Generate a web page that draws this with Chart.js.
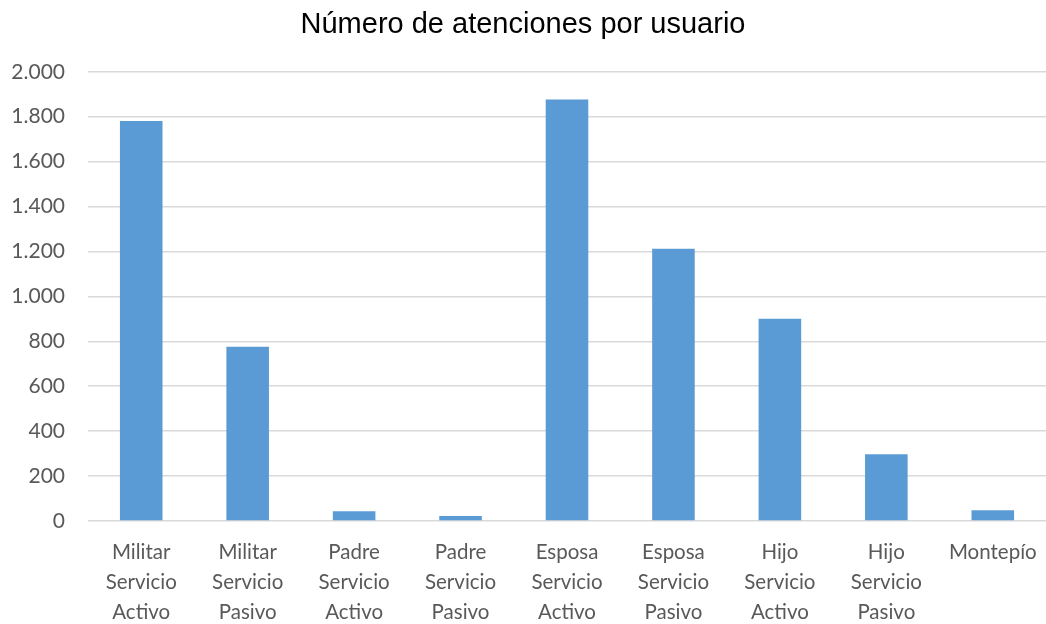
<!DOCTYPE html>
<html>
<head>
<meta charset="utf-8">
<script src="https://cdn.jsdelivr.net/npm/chart.js@4"></script>
<style>
  html, body { margin: 0; padding: 0; background: #fff; }
  #wrap { width: 1046px; height: 624px; }
</style>
</head>
<body>
<div id="wrap"><canvas id="chart"></canvas></div>
<script>
// categorias y valores
const categorias = [
    ['Militar', 'Servicio', 'Activo'],
    ['Militar', 'Servicio', 'Pasivo'],
    ['Padre', 'Servicio', 'Activo'],
    ['Padre', 'Servicio', 'Pasivo'],
    ['Esposa', 'Servicio', 'Activo'],
    ['Esposa', 'Servicio', 'Pasivo'],
    ['Hijo', 'Servicio', 'Activo'],
    ['Hijo', 'Servicio', 'Pasivo'],
    'Montepío'
];
const atenciones = [1781, 776, 43, 22, 1877, 1212, 901, 297, 48];
const ejeMin = 0;
const ejeMax = 2000;
const ejePaso = 200;

const gris = '#595959';

function miles(v) {
    return String(v).replace(/\B(?=(\d{3})+(?!\d))/g, '.');
}

new Chart(document.getElementById('chart'), {
    type: 'bar',
    data: {
        labels: categorias,
        datasets: [{
            data: atenciones,
            backgroundColor: '#5B9BD5',
            borderWidth: 0,
            barPercentage: 0.4,
            categoryPercentage: 1
        }]
    },
    options: {
        responsive: true,
        maintainAspectRatio: false,
        animation: false,
        layout: { padding: 0 },
        plugins: {
            legend: { display: false },
            tooltip: { enabled: false },
            title: {
                display: true,
                text: 'Número de atenciones por usuario',
                color: '#000',
                font: { family: 'Liberation Sans', size: 29, weight: 'normal', lineHeight: 1.2 },
                padding: { top: 8, bottom: 29 }
            }
        },
        scales: {
            x: {
                grid: { display: false },
                border: { display: false },
                ticks: {
                    color: gris,
                    padding: 9,
                    maxRotation: 0,
                    autoSkip: false,
                    font: { family: 'Lato', size: 20.5, lineHeight: 1.45 }
                },
                afterFit: s => { s.height = 103; }
            },
            y: {
                min: ejeMin,
                max: ejeMax,
                grid: { color: '#D9D9D9', lineWidth: 1.5, drawTicks: false },
                border: { display: false },
                ticks: {
                    stepSize: ejePaso,
                    color: gris,
                    padding: 23,
                    font: { family: 'Lato', size: 21 },
                    callback: v => miles(v)
                },
                afterFit: s => { s.width = 88; }
            }
        }
    }
});
</script>
</body>
</html>
